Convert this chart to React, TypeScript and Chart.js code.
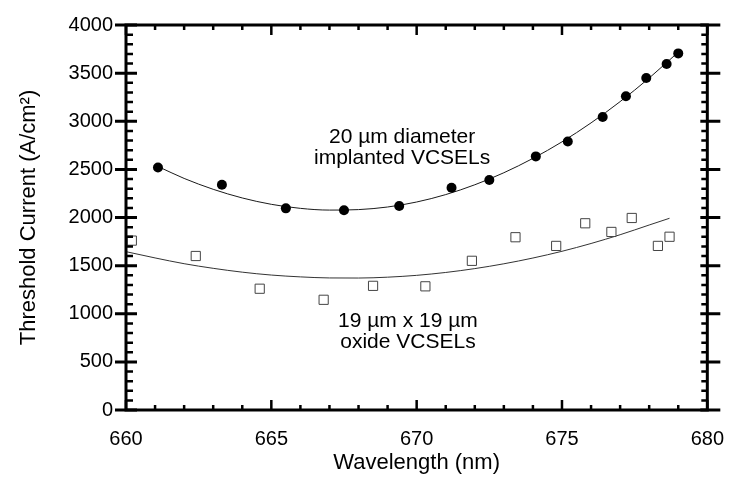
import React, { useEffect, useRef } from "react";
import { Chart, registerables } from "chart.js";

Chart.register(...registerables);

// ---- Data ----
const implantedWavelength = [661.1, 663.3, 665.5, 667.5, 669.4, 671.2, 672.5, 674.1, 675.2, 676.4, 677.2, 677.9, 678.6, 679.0];
const implantedCurrent = [2520, 2340, 2095, 2075, 2120, 2310, 2390, 2635, 2790, 3045, 3260, 3450, 3595, 3705];

const oxideWavelength = [660.2, 662.4, 664.6, 666.8, 668.5, 670.3, 671.9, 673.4, 674.8, 675.8, 676.7, 677.4, 678.3, 678.7];
const oxideCurrent = [1760, 1600, 1260, 1145, 1290, 1285, 1550, 1795, 1705, 1940, 1850, 1995, 1705, 1800];

const implantedFitWavelength = [661.1, 662, 663, 664, 665, 666, 667, 668, 669, 670, 671, 672, 673, 674, 675, 676, 677, 678, 679];
const implantedFitCurrent = [2530, 2406, 2293, 2203, 2137, 2095, 2077, 2082, 2109, 2161, 2238, 2340, 2465, 2614, 2786, 2983, 3204, 3449, 3718];

const oxideFitWavelength = [660, 661, 662, 663, 664, 665, 666, 667, 668, 669, 670, 671, 672, 673, 674, 675, 676, 677, 678, 678.7];
const oxideFitCurrent = [1645, 1580, 1520, 1472, 1432, 1402, 1383, 1372, 1371, 1380, 1399, 1429, 1469, 1519, 1579, 1649, 1730, 1821, 1922, 1992];

const xTickValues = [660, 665, 670, 675, 680];
const yTickValues = [0, 500, 1000, 1500, 2000, 2500, 3000, 3500, 4000];

const annotationLines = [
  { text: "20 \u00b5m diameter", x: 669.5, y: 2830 },
  { text: "implanted VCSELs", x: 669.5, y: 2620 },
  { text: "19 \u00b5m x 19 \u00b5m", x: 669.7, y: 918 },
  { text: "oxide VCSELs", x: 669.7, y: 705 },
];

const FONT = "'Liberation Sans', Arial, Helvetica, sans-serif";

const toPoints = (xs: number[], ys: number[]) => xs.map((x, i) => ({ x, y: ys[i] }));

const framePlugin = {
  id: "frameTicks",
  afterDatasetsDraw(chart: any) {
    const { ctx, chartArea } = chart;
    const { left, right, top, bottom } = chartArea;
    const xs = chart.scales.x;
    const ys = chart.scales.y;
    ctx.save();
    ctx.strokeStyle = "#000";
    ctx.lineCap = "butt";
    ctx.lineWidth = 2.5;
    for (let v = xs.min; v <= xs.max; v += 1) {
      const px = xs.getPixelForValue(v);
      const major = v % 5 === 0;
      const len = major ? 10 : 5;
      ctx.beginPath();
      ctx.moveTo(px, bottom);
      ctx.lineTo(px, bottom - len);
      ctx.moveTo(px, top);
      ctx.lineTo(px, top + len);
      ctx.stroke();
    }
    for (let v = ys.min; v <= ys.max; v += 100) {
      const py = ys.getPixelForValue(v);
      const major = v % 500 === 0;
      ctx.lineWidth = major ? 3 : 2.5;
      ctx.beginPath();
      if (major) {
        ctx.moveTo(left - 11, py);
        ctx.lineTo(left + 11, py);
        ctx.moveTo(right - 7, py);
        ctx.lineTo(right + 13, py);
      } else {
        ctx.moveTo(left, py);
        ctx.lineTo(left + 7, py);
        ctx.moveTo(right, py);
        ctx.lineTo(right - 6, py);
      }
      ctx.stroke();
    }
    ctx.lineWidth = 3;
    ctx.strokeRect(left, top, right - left, bottom - top);

    ctx.fillStyle = "#000";
    ctx.font = `21px ${FONT}`;
    ctx.textAlign = "center";
    ctx.textBaseline = "middle";
    annotationLines.forEach((a) => {
      ctx.fillText(a.text, xs.getPixelForValue(a.x), ys.getPixelForValue(a.y));
    });
    ctx.restore();
  },
};

export default function App() {
  const canvasRef = useRef<HTMLCanvasElement | null>(null);

  useEffect(() => {
    if (!canvasRef.current) return;
    const chart = new Chart(canvasRef.current, {
      type: "scatter",
      data: {
        datasets: [
          {
            label: "implanted fit",
            data: toPoints(implantedFitWavelength, implantedFitCurrent),
            showLine: true,
            borderColor: "#1a1a1a",
            borderWidth: 1,
            pointRadius: 0,
            cubicInterpolationMode: "monotone",
            order: 3,
          } as any,
          {
            label: "oxide fit",
            data: toPoints(oxideFitWavelength, oxideFitCurrent),
            showLine: true,
            borderColor: "#333",
            borderWidth: 1,
            pointRadius: 0,
            cubicInterpolationMode: "monotone",
            order: 3,
          } as any,
          {
            label: "20 um diameter implanted VCSELs",
            data: toPoints(implantedWavelength, implantedCurrent),
            pointStyle: "circle",
            pointRadius: 5,
            backgroundColor: "#000",
            borderColor: "#000",
            borderWidth: 0,
            clip: false,
            order: 1,
          } as any,
          {
            label: "19 um x 19 um oxide VCSELs",
            data: toPoints(oxideWavelength, oxideCurrent),
            pointStyle: "rect",
            pointRadius: 6.5,
            backgroundColor: "#fff",
            borderColor: "#444",
            borderWidth: 1,
            clip: false,
            order: 2,
          } as any,
        ],
      },
      options: {
        responsive: false,
        animation: false,
        devicePixelRatio: 1,
        layout: { padding: { left: 0, right: 31, top: 17, bottom: 0 } },
        plugins: {
          legend: { display: false },
          tooltip: { enabled: false },
        },
        scales: {
          x: {
            type: "linear",
            min: 660,
            max: 680,
            afterBuildTicks: (scale: any) => {
              scale.ticks = xTickValues.map((v) => ({ value: v }));
            },
            afterFit: (scale: any) => {
              scale.height = 73;
            },
            grid: { display: false, drawTicks: false },
            border: { display: false },
            ticks: {
              color: "#000",
              padding: 17,
              maxRotation: 0,
              font: { family: FONT, size: 20 },
              callback: (v: any) => String(v),
            },
            title: {
              display: true,
              text: "Wavelength (nm)",
              color: "#000",
              font: { family: FONT, size: 22 },
              padding: { top: 0, bottom: 7 },
            },
          },
          y: {
            type: "linear",
            min: 0,
            max: 4000,
            afterBuildTicks: (scale: any) => {
              scale.ticks = yTickValues.map((v) => ({ value: v }));
            },
            afterFit: (scale: any) => {
              scale.width = 126;
            },
            grid: { display: false, drawTicks: false },
            border: { display: false },
            ticks: {
              color: "#000",
              padding: 13,
              font: { family: FONT, size: 20 },
              callback: (v: any) => String(v),
            },
            title: {
              display: true,
              text: "Threshold Current (A/cm\u00b2)",
              color: "#000",
              font: { family: FONT, size: 22 },
              padding: { top: 16, bottom: 0 },
            },
          },
        },
      },
      plugins: [framePlugin],
    });
    return () => chart.destroy();
  }, []);

  return (
    <div style={{ position: "absolute", left: 0, top: 0, width: 741, height: 483, background: "#fff" }}>
      <canvas ref={canvasRef} width={741} height={483} style={{ width: 741, height: 483, display: "block" }} />
    </div>
  );
}
